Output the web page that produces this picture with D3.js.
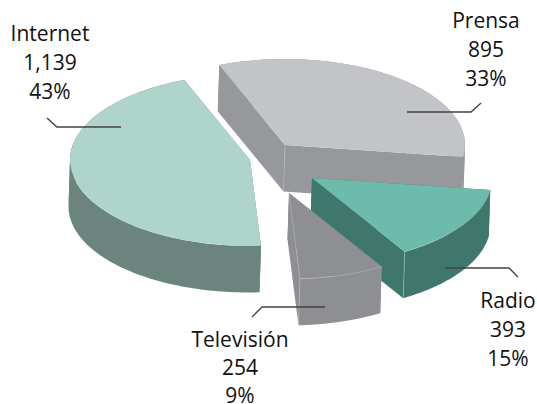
<!DOCTYPE html>
<html>
<head>
<meta charset="utf-8">
<script src="https://cdn.jsdelivr.net/npm/d3@7/dist/d3.min.js"></script>
<style>
html,body{margin:0;padding:0;background:#fff;overflow:hidden}
svg{display:block}
text{font-family:"Open Sans",sans-serif;font-size:21px;fill:#111;text-anchor:middle}
</style>
</head>
<body>
<svg id="c" width="537" height="404"></svg>
<script>
// Data, as printed on the chart
const categories = ["Prensa", "Radio", "Televisión", "Internet"];
const counts = ["895", "393", "254", "1,139"];
const percents = ["33%", "15%", "9%", "43%"];
// Slice sweeps in degrees
const sweeps = [119.4, 51, 27.5, 162.1];

// Styling and layout
const topColors = ["#c3c4c8", "#6dbbab", "#8e8f93", "#aed4cb"];
const wallColors = ["#97989c", "#3f776c", "#8e8f93", "#6b857e"];
const edgeColors = ["#b4b5b9", "#9cc4ba", "#b8b9bc", "#aed4cb"];
const apexX = [285, 312, 289, 250];
const apexY = [145, 178, 193, 160];
const labelX = [486, 508, 240, 50];
const labelY = [28, 308, 347, 41];
const lineGaps = [29, 29, 28, 29];
const leaders = [
  [[481,103],[471,112],[407,112]],
  [[445,268],[509,268],[518,277]],
  [[252,317],[262,307],[325,307]],
  [[47,118],[57,127],[121,127]]
];
const drawOrder = [0, 3, 1, 2];
const rx = 180, ry = 86, depth = 46.5, skew = -1.5;

const svg = d3.select("#c");
const rad = d => d * Math.PI / 180;
const pie = d3.pie().sort(null).value(d => d).startAngle(rad(-21.4)).endAngle(rad(338.6));
const slices = pie(sweeps);
const unitArc = d3.arc().innerRadius(0).outerRadius(1);
const line = d3.line();
const rim = a => [rx * Math.sin(a), -ry * Math.cos(a)];
const down = p => [p[0] + skew, p[1] + depth];
const rimPts = s => d3.range(0, 121).map(i => rim(s.startAngle + (s.endAngle - s.startAngle) * i / 120));

// split a rim polyline where it turns back in x, so each wall band is a simple polygon
function monotoneRuns(pts) {
  const runs = [[pts[0]]];
  let dir = 0;
  for (let i = 1; i < pts.length; i++) {
    const d = Math.sign(pts[i][0] - pts[i - 1][0]);
    const run = runs[runs.length - 1];
    if (dir !== 0 && d !== 0 && d !== dir) runs.push([pts[i - 1], pts[i]]);
    else run.push(pts[i]);
    if (d !== 0) dir = d;
  }
  return runs;
}

drawOrder.forEach(i => {
  const s = slices[i];
  const g = svg.append("g").attr("transform", `translate(${apexX[i]},${apexY[i]})`);
  const pts = rimPts(s);
  const a = pts[0], b = pts[pts.length - 1], o = [0, 0];
  // extruded body
  const polys = [[o, a, down(a), down(o)], [o, b, down(b), down(o)]];
  monotoneRuns(pts).forEach(run => polys.push(run.concat(run.map(down).reverse())));
  polys.forEach(poly => {
    g.append("path").attr("d", line(poly) + "Z").attr("fill", wallColors[i]);
  });
  // top face
  g.append("path")
    .attr("d", unitArc({startAngle: s.startAngle, endAngle: s.endAngle}))
    .attr("transform", `scale(${rx},${ry})`)
    .attr("fill", topColors[i]);
  // thin highlights on the visible edges
  const highlight = [];
  if (i === 0) highlight.push([o, down(o)]);
  if (i === 1) { highlight.push(pts); highlight.push([b, down(b)]); }
  if (i === 2) { highlight.push(pts); highlight.push([o, b]); highlight.push([b, down(b)]); }
  highlight.forEach(h => g.append("path").attr("d", line(h)).attr("fill", "none")
    .attr("stroke", edgeColors[i]).attr("stroke-width", 0.6));
});

leaders.forEach(l => {
  svg.append("path").attr("d", line(l)).attr("fill", "none")
    .attr("stroke", "#444245").attr("stroke-width", 1.4);
});

categories.forEach((c, i) => {
  const t = svg.append("text").attr("x", labelX[i]).attr("y", labelY[i]);
  [c, counts[i], percents[i]].forEach((str, k) => {
    t.append("tspan").attr("x", labelX[i]).attr("y", labelY[i] + k * lineGaps[i]).text(str);
  });
});
</script>
</body>
</html>
